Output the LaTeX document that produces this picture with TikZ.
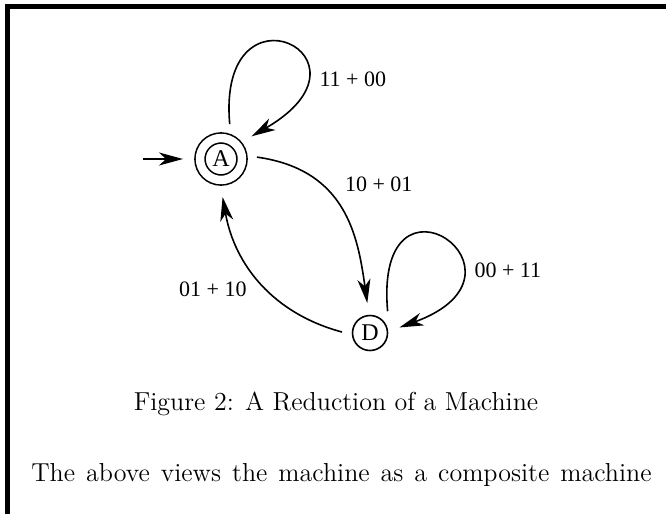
\documentclass[tikz,border=0pt]{standalone}
\usepackage{fontspec}
\newfontfamily\figfont{Liberation Serif}
\usetikzlibrary{arrows.meta,positioning}

\begin{document}
\begin{tikzpicture}[x=0.5pt,y=-0.5pt,>={Stealth[length=12pt,width=6.5pt,inset=3.5pt]},
                    shorten >=1pt,auto,thick,
                    state node/.style={circle,draw,inner sep=0pt,minimum size=17.5pt,
                      outer sep=5.25pt,font=\figfont\fontsize{12}{14}\selectfont},
                    accept node/.style={state node,double,double distance=4.2pt,
                      minimum size=21pt,outer sep=7.5pt},
                    text line/.style={anchor=base,font=\fontsize{13}{15}\selectfont}]
  \useasboundingbox (0,0) rectangle (668,514);
  \draw[line width=2.5pt] (7.5,514) |- (668,6.5);

  \node[accept node] (A) at (221,159) {A};
  \node[state node] (D) [on grid,below right=87pt and 74.5pt of A] {D};
  \coordinate[on grid,left=39pt of A] (init);

  \path[->,every node/.style={font=\figfont\fontsize{11}{13}\selectfont}]
    (init) edge (A)
    (A.76) edge[out=95,in=30,out distance=75pt,in distance=80pt]
           node[right,pos=0.72,xshift=4pt,yshift=-2.5pt] {11 + 00} (A.37)
    (A.3)  edge[out=-8,in=98,out distance=45pt,in distance=35pt]
           node[pos=0.4,anchor=south west,xshift=3pt,yshift=-2.5pt] {10 + 01} (D.95)
    (D.178) edge[out=165,in=-80]
           node[pos=0.5,left,xshift=-3.5pt,yshift=-3pt] {01 + 10} (A.272)
    (D.51) edge[out=95,in=20,out distance=80pt,in distance=80pt]
           node[right,pos=0.7,xshift=4pt] {00 + 11} (D.10);

  \node[text line] (caption) at (336,410) {Figure 2: A Reduction of a Machine};
  \node[text line] (remark) at (341.5,481)
    {\spaceskip=5.5pt The above views the machine as a composite machine};
\end{tikzpicture}
\end{document}
